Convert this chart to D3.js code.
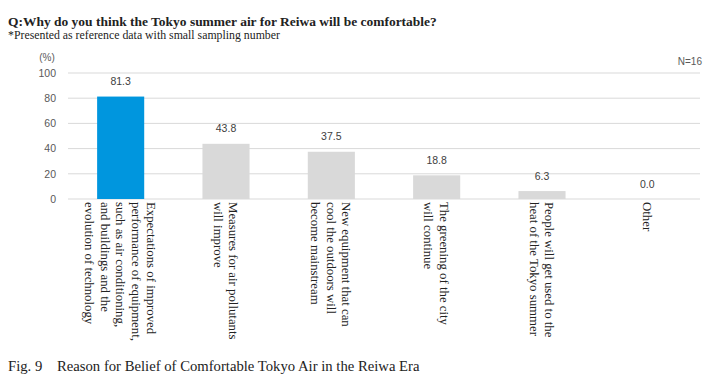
<!DOCTYPE html>
<html><head><meta charset="utf-8">
<script src="https://cdn.jsdelivr.net/npm/d3@7"></script>
<style>body{margin:0;background:#fff}svg{display:block}</style>
</head><body>
<script>
const categories = [
  ["Expectations of improved","performance of equipment,","such as air conditioning,","and buildings and the","evolution of technology"],
  ["Measures for air pollutants","will improve"],
  ["New equipment that can","cool the outdoors will","become mainstream"],
  ["The greening of the city","will continue"],
  ["People will get used to the","heat of the Tokyo summer"],
  ["Other"]
];
const values = [81.3, 43.8, 37.5, 18.8, 6.3, 0.0];
const yTicks = [0, 20, 40, 60, 80, 100];
const title = "Q:Why do you think the Tokyo summer air for Reiwa will be comfortable?";
const subtitle = "*Presented as reference data with small sampling number";
const caption = "Fig. 9\u2003Reason for Belief of Comfortable Tokyo Air in the Reiwa Era";

const W = 720, H = 382;
const svg = d3.select("body").append("svg").attr("width", W).attr("height", H);
const serif = "'Liberation Serif','Times New Roman',serif";
const sans = "'Liberation Sans',Arial,sans-serif";

const x = d3.scaleBand().domain(d3.range(values.length)).range([68, 700]).paddingInner(0.553).paddingOuter(0.2765);
const y = d3.scaleLinear().domain([0, 100]).range([199, 73]);

function fitText(sel, target) {
  const w = sel.node().getComputedTextLength();
  const fs = parseFloat(sel.attr("font-size"));
  sel.attr("font-size", (fs * target / w).toFixed(2));
}

fitText(svg.append("text").attr("x", 8).attr("y", 26).attr("font-family", serif).attr("font-weight", "bold")
  .attr("font-size", 14).attr("fill", "#222").text(title), 429);
fitText(svg.append("text").attr("x", 8).attr("y", 39).attr("font-family", serif)
  .attr("font-size", 11).attr("fill", "#222").text(subtitle), 272);
fitText(svg.append("text").attr("x", 8).attr("y", 371).attr("font-family", serif)
  .attr("font-size", 13).attr("fill", "#222").text(caption), 412);

// gridlines
svg.append("g").selectAll("line").data(yTicks).join("line")
  .attr("x1", 68).attr("x2", 700).attr("y1", d => y(d)).attr("y2", d => y(d))
  .attr("stroke", "#d9d9d9").attr("stroke-width", 1);

// y axis labels
const yAxis = d3.axisLeft(y).tickValues(yTicks).tickSize(0).tickPadding(12);
const ga = svg.append("g").attr("transform", "translate(68,0)").call(yAxis);
ga.select(".domain").remove();
ga.selectAll("text").attr("font-family", sans).attr("font-size", 10.5).attr("fill", "#595959");

svg.append("text").attr("x", 47).attr("y", 61).attr("text-anchor", "middle").attr("font-family", sans)
  .attr("font-size", 10).attr("fill", "#595959").text("(%)");
svg.append("text").attr("x", 702).attr("y", 65).attr("text-anchor", "end").attr("font-family", sans)
  .attr("font-size", 10).attr("fill", "#595959").text("N=16");

// bars
svg.append("g").selectAll("rect").data(values).join("rect")
  .attr("x", (d, i) => x(i)).attr("width", x.bandwidth())
  .attr("y", d => y(d)).attr("height", d => y(0) - y(d))
  .attr("fill", (d, i) => i === 0 ? "#0096DE" : "#d9d9d9");

// value labels
svg.append("g").selectAll("text").data(values).join("text")
  .attr("x", (d, i) => x(i) + x.bandwidth() / 2).attr("y", d => y(d) - 11.5)
  .attr("text-anchor", "middle").attr("font-family", sans).attr("font-size", 10.5).attr("fill", "#404040")
  .text(d => d.toFixed(1));

// category labels (rotated 90deg clockwise)
const lh = 15.5;
categories.forEach((lines, i) => {
  const cx = x(i) + x.bandwidth() / 2;
  const n = lines.length;
  const g = svg.append("g").attr("transform", `translate(${cx},202) rotate(90)`);
  lines.forEach((t, j) => {
    const off = (j - (n - 1) / 2) * lh;
    g.append("text").attr("x", 0).attr("y", off).attr("dy", "0.35em")
      .attr("font-family", serif).attr("font-size", 12.8).attr("fill", "#222").text(t);
  });
});
</script>
</body></html>
